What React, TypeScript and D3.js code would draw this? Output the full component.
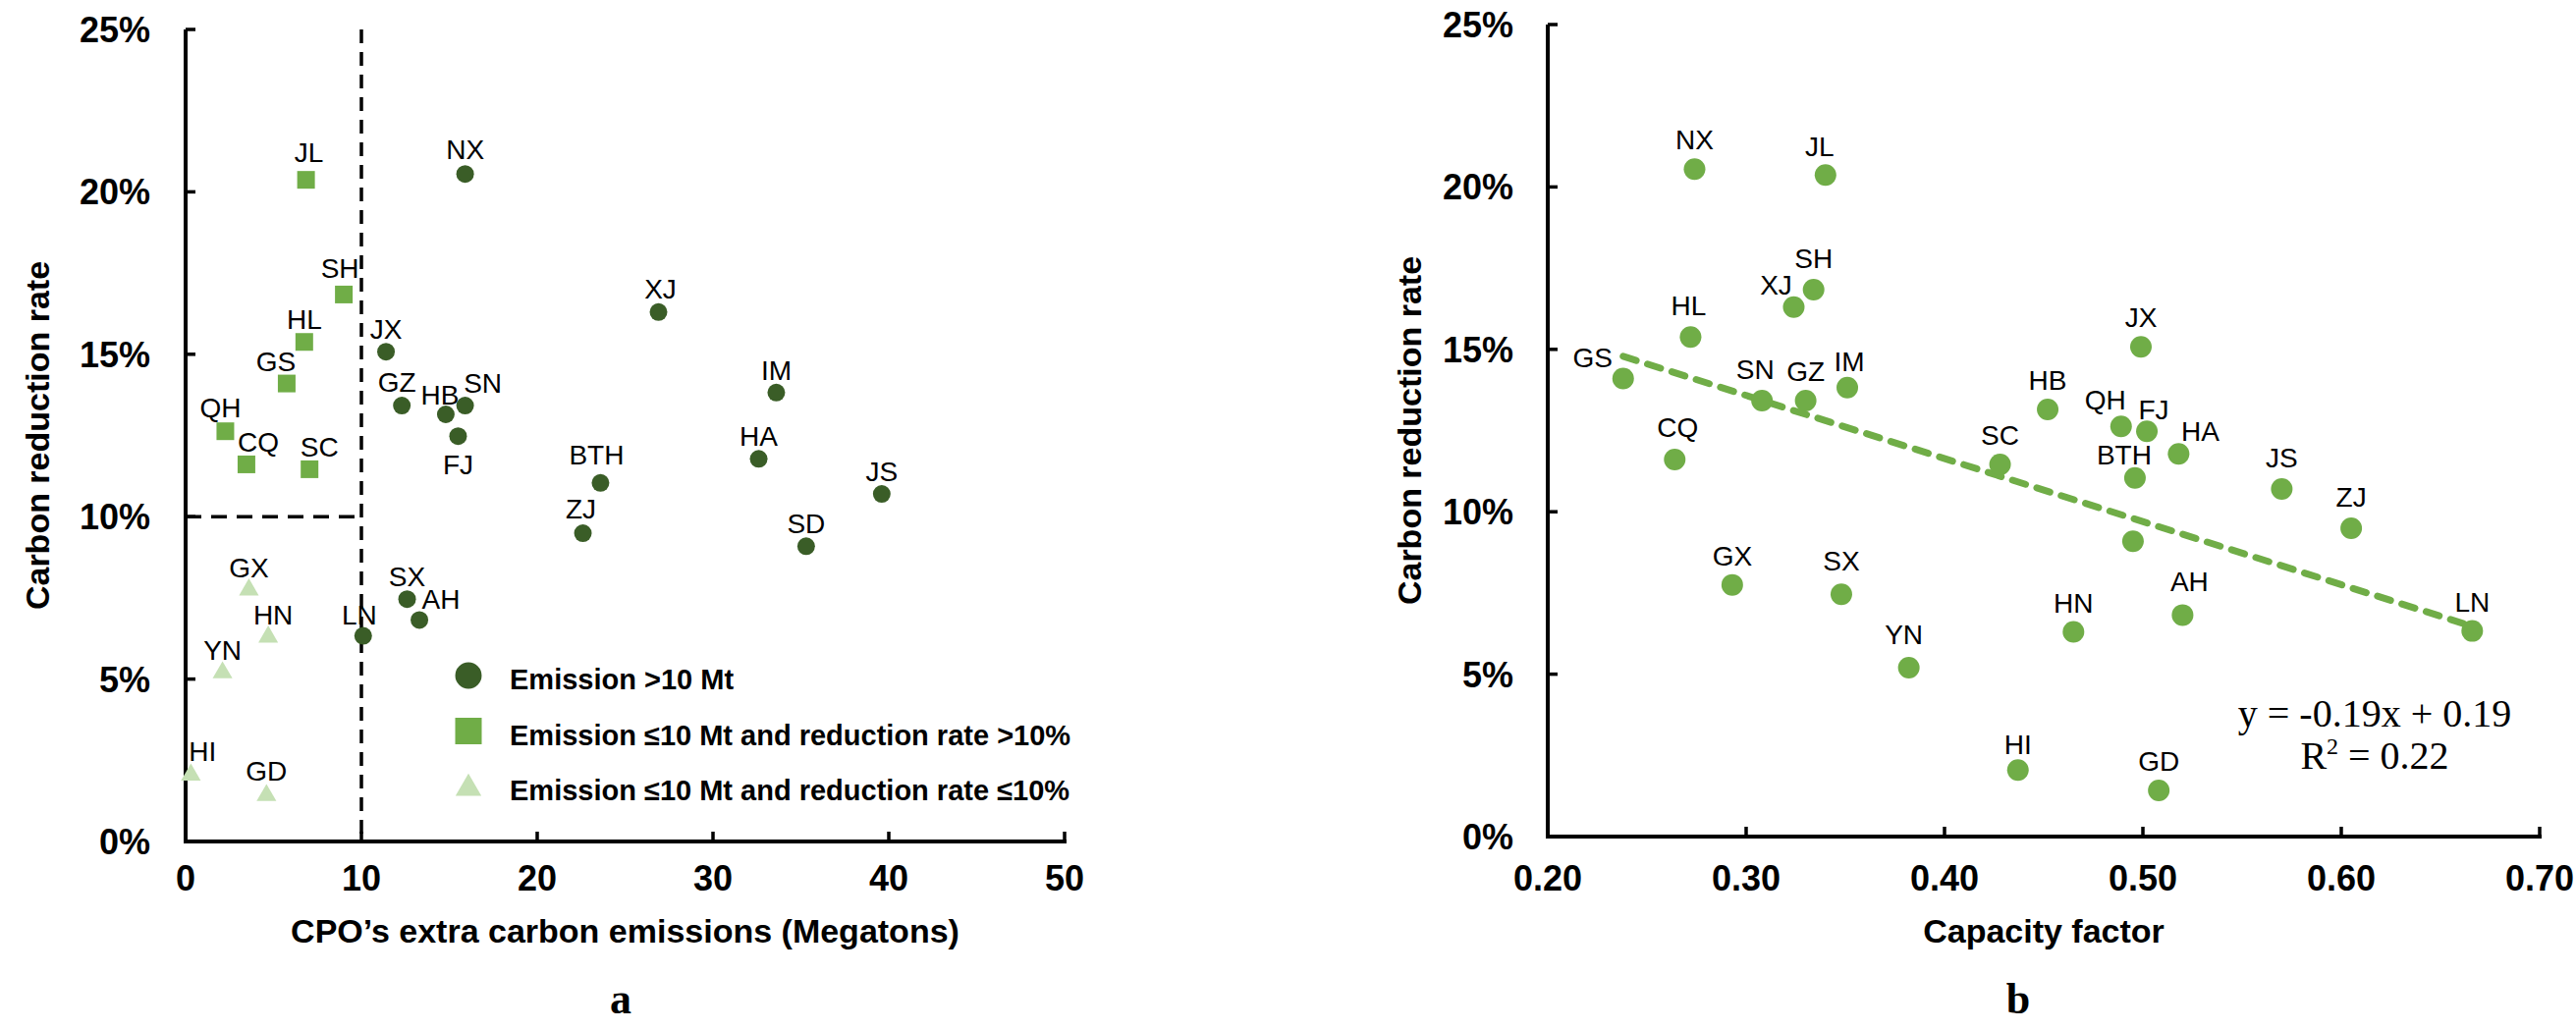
import React from 'react';
import * as d3 from 'd3';

// province codes, shared by both panels
const provinces = ['NX', 'XJ', 'JX', 'GZ', 'HB', 'SN', 'FJ', 'IM', 'HA', 'JS', 'BTH', 'ZJ', 'SD', 'SX', 'AH', 'LN',
  'JL', 'SH', 'HL', 'GS', 'QH', 'CQ', 'SC', 'GX', 'HN', 'YN', 'HI', 'GD'];
// CPO's extra carbon emissions (Mt)
const extraEmissions = [15.9, 26.9, 11.4, 12.3, 14.8, 15.9, 15.5, 33.6, 32.6, 39.6, 23.6, 22.6, 35.3, 12.6, 13.3, 10.1,
  6.85, 9.0, 6.75, 5.75, 2.26, 3.46, 7.05, 3.6, 4.7, 2.1, 0.3, 4.6];
// carbon reduction rate (%)
const reductionRate = [20.55, 16.3, 15.08, 13.42, 13.15, 13.42, 12.48, 13.82, 11.78, 10.7, 11.04, 9.49, 9.09, 7.46, 6.82, 6.33,
  20.37, 16.84, 15.38, 14.1, 12.63, 11.61, 11.46, 7.75, 6.3, 5.2, 2.05, 1.42];
// capacity factor
const capacityFactor = [0.274, 0.324, 0.499, 0.330, 0.452, 0.308, 0.502, 0.351, 0.518, 0.570, 0.496, 0.605, 0.495, 0.348, 0.520, 0.666,
  0.340, 0.334, 0.272, 0.238, 0.489, 0.264, 0.428, 0.293, 0.465, 0.382, 0.437, 0.508];

const rateTicks = [0, 5, 10, 15, 20, 25];
const emissionTicks = [0, 10, 20, 30, 40, 50];
const cfTicks = [0.2, 0.3, 0.4, 0.5, 0.6, 0.7];
const emissionThreshold = 10;
const rateThreshold = 10;
const legendLabels = [
  'Emission >10 Mt',
  'Emission ≤10 Mt and reduction rate >10%',
  'Emission ≤10 Mt and reduction rate ≤10%',
];

// label nudges (px) so names don't collide, [dx, baseline dy]
const labelNudgeA: Record<string, [number, number]> = {
  NX: [0, -15], JL: [3, -18], SH: [-4, -17], XJ: [2, -14], GS: [-11, -13], GZ: [-5, -14], HB: [-6, -10],
  SN: [18, -13], QH: [-5, -14], CQ: [12, -13], SC: [10, -13], FJ: [0, 39], BTH: [-4, -19], ZJ: [-2, -15],
  AH: [22, -11], LN: [-4, -12], HN: [5, -13], HI: [12, -14], GD: [0, -15],
};
const labelNudgeB: Record<string, [number, number]> = {
  XJ: [-18, -13], GS: [-31, -12], QH: [-16, -17], FJ: [7, -12], HA: [22, -13], BTH: [-11, -14], IM: [2, -17],
  JL: [-6, -19], SH: [0, -22], HL: [-2, -22], SN: [-7, -22], CQ: [3, -23], JS: [0, -22], ZJ: [0, -22],
  SX: [0, -24], AH: [7, -24], YN: [-5, -24], HI: [0, -16],
};
const hiddenLabelsB = ['SD'];

const W = 2623;
const H = 1049;
const SANS = '"Liberation Sans", Arial, sans-serif';
const SERIF = '"Liberation Serif", "Times New Roman", serif';
const DARK = '#3A5D27';
const MID = '#70AD47';
const LIGHT = '#C5E0B4';

const xA = d3.scaleLinear().domain([0, 50]).range([189, 1084]);
const yA = d3.scaleLinear().domain([0, 25]).range([857, 30]);
const xB = d3.scaleLinear().domain([0.2, 0.7]).range([1576, 2586]);
const yB = d3.scaleLinear().domain([0, 25]).range([852, 25]);

const groupOf = (i: number) =>
  extraEmissions[i] > emissionThreshold ? 0 : reductionRate[i] > rateThreshold ? 1 : 2;

const symPath = [
  d3.symbol(d3.symbolCircle, 254)()!,
  d3.symbol(d3.symbolSquare, 324)()!,
  d3.symbol(d3.symbolTriangle, 175)()!,
];
const legendPath = [
  d3.symbol(d3.symbolCircle, 570)()!,
  d3.symbol(d3.symbolSquare, 729)()!,
  d3.symbol(d3.symbolTriangle, 300)()!,
];
const groupColor = [DARK, MID, LIGHT];

// least squares fit for panel b
const fit = (() => {
  const n = capacityFactor.length;
  const mx = d3.mean(capacityFactor)!;
  const my = d3.mean(reductionRate)!;
  let sxy = 0, sxx = 0;
  for (let i = 0; i < n; i++) {
    sxy += (capacityFactor[i] - mx) * (reductionRate[i] - my);
    sxx += (capacityFactor[i] - mx) ** 2;
  }
  const slope = sxy / sxx;
  return { slope, intercept: my - slope * mx };
})();

const TICK_FONT = 36;

function YAxis({ x, y, labelX }: { x: number; y: d3.ScaleLinear<number, number>; labelX: number }) {
  const [y0, y1] = y.range();
  return (
    <g>
      <line x1={x} x2={x} y1={y0} y2={y1} stroke="#000" strokeWidth={4} />
      {rateTicks.map(t => (
        <g key={t}>
          <line x1={x} x2={x + 10} y1={y(t)} y2={y(t)} stroke="#000" strokeWidth={3.5} />
          <text x={labelX} y={y(t)} dy="0.36em" textAnchor="end" fontFamily={SANS} fontWeight="bold" fontSize={TICK_FONT}>
            {t}%
          </text>
        </g>
      ))}
    </g>
  );
}

function XAxis({ x, y, ticks, fmt }: {
  x: d3.ScaleLinear<number, number>; y: number; ticks: number[]; fmt: (v: number) => string;
}) {
  const [x0, x1] = x.range();
  return (
    <g>
      <line x1={x0 - 2} x2={x1 + 2} y1={y} y2={y} stroke="#000" strokeWidth={4} />
      {ticks.map((t, i) => (
        <g key={t}>
          {i > 0 && <line x1={x(t)} x2={x(t)} y1={y} y2={y - 10} stroke="#000" strokeWidth={3.5} />}
          <text x={x(t)} y={907} textAnchor="middle" fontFamily={SANS} fontWeight="bold" fontSize={TICK_FONT}>
            {fmt(t)}
          </text>
        </g>
      ))}
    </g>
  );
}

export default function App() {
  React.useEffect(() => {
    document.body.style.margin = '0';
  }, []);

  const cfExtent = d3.extent(capacityFactor) as [number, number];
  const trend = d3.line<number>()
    .x(c => xB(c))
    .y(c => yB(fit.intercept + fit.slope * c));

  return (
    <svg width={W} height={H} viewBox={`0 0 ${W} ${H}`} style={{ display: 'block', background: '#fff' }}>
      {/* ---------- panel a ---------- */}
      <g>
        <line x1={xA(emissionThreshold)} x2={xA(emissionThreshold)} y1={yA(25)} y2={yA(0)}
          stroke="#000" strokeWidth={3.5} strokeDasharray="14 9" />
        <line x1={xA(0)} x2={xA(emissionThreshold)} y1={yA(rateThreshold)} y2={yA(rateThreshold)}
          stroke="#000" strokeWidth={3.5} strokeDasharray="16 10" />
        <YAxis x={xA(0)} y={yA} labelX={153} />
        <XAxis x={xA} y={yA(0)} ticks={emissionTicks} fmt={v => String(v)} />
        <text transform={`translate(50,${(yA(0) + yA(25)) / 2}) rotate(-90)`} textAnchor="middle"
          fontFamily={SANS} fontWeight="bold" fontSize={34}>Carbon reduction rate</text>
        <text x={(xA(0) + xA(50)) / 2} y={960} textAnchor="middle" fontFamily={SANS} fontWeight="bold" fontSize={34}>
          CPO’s extra carbon emissions (Megatons)
        </text>

        {provinces.map((p, i) => {
          const g = groupOf(i);
          return (
            <path key={p} d={symPath[g]} fill={groupColor[g]}
              transform={`translate(${xA(extraEmissions[i])},${yA(reductionRate[i])})`} />
          );
        })}
        {provinces.map((p, i) => {
          const [dx, dy] = labelNudgeA[p] ?? [0, -13];
          return (
            <text key={p} x={xA(extraEmissions[i]) + dx} y={yA(reductionRate[i]) + dy} textAnchor="middle"
              fontFamily={SANS} fontSize={28}>{p}</text>
          );
        })}

        {legendLabels.map((l, i) => (
          <g key={l} transform={`translate(477,${688 + i * 56.5})`}>
            <path d={legendPath[i]} fill={groupColor[i]} transform={i === 2 ? 'translate(0,2)' : undefined} />
            <text x={42} y={14} fontFamily={SANS} fontWeight="bold" fontSize={29}>{l}</text>
          </g>
        ))}

        <text x={632} y={1032} textAnchor="middle" fontFamily={SERIF} fontWeight="bold" fontSize={44}>a</text>
      </g>

      {/* ---------- panel b ---------- */}
      <g>
        <YAxis x={xB(0.2)} y={yB} labelX={1541} />
        <XAxis x={xB} y={yB(0)} ticks={cfTicks} fmt={v => v.toFixed(2)} />
        <text transform={`translate(1447,${(yB(0) + yB(25)) / 2}) rotate(-90)`} textAnchor="middle"
          fontFamily={SANS} fontWeight="bold" fontSize={34}>Carbon reduction rate</text>
        <text x={(xB(0.2) + xB(0.7)) / 2} y={960} textAnchor="middle" fontFamily={SANS} fontWeight="bold" fontSize={34}>
          Capacity factor
        </text>

        <path d={trend(cfExtent)!} fill="none" stroke={MID} strokeWidth={7} strokeDasharray="14 12"
          strokeLinecap="round" />

        {provinces.map((p, i) => (
          <circle key={p} cx={xB(capacityFactor[i])} cy={yB(reductionRate[i])} r={11} fill={MID} />
        ))}
        {provinces.filter(p => !hiddenLabelsB.includes(p)).map(p => {
          const i = provinces.indexOf(p);
          const [dx, dy] = labelNudgeB[p] ?? [0, -20];
          return (
            <text key={p} x={xB(capacityFactor[i]) + dx} y={yB(reductionRate[i]) + dy} textAnchor="middle"
              fontFamily={SANS} fontSize={28}>{p}</text>
          );
        })}

        <text x={2418} y={740} textAnchor="middle" fontFamily={SERIF} fontSize={40}>
          y = -0.19x + 0.19
        </text>
        <text x={2418} y={783} textAnchor="middle" fontFamily={SERIF} fontSize={40}>
          R<tspan dy={-15} fontSize={24}>2</tspan><tspan dy={15}> = 0.22</tspan>
        </text>

        <text x={2055} y={1032} textAnchor="middle" fontFamily={SERIF} fontWeight="bold" fontSize={44}>b</text>
      </g>
    </svg>
  );
}
